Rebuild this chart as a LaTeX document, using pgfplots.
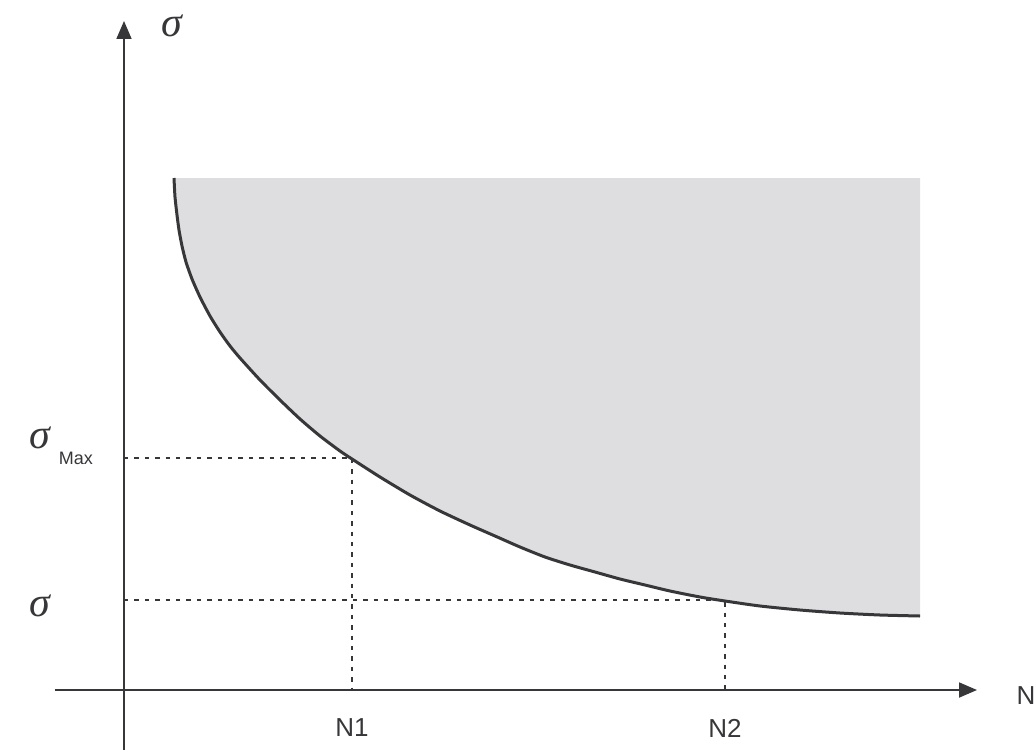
\documentclass[border=0pt]{standalone}
\usepackage{fontspec}
\setmainfont{Liberation Sans}
\newfontfamily\serifit{Liberation Serif}
\usepackage{pgfplots}
\pgfplotsset{compat=1.18}
\usetikzlibrary{arrows.meta}
\definecolor{ink}{RGB}{55,55,58}
\definecolor{shade}{RGB}{222,222,224}
\pgfplotstableread{
x y
50 512
51 493
53 475
55 460
58 444
62 428
68 411
76 393
86 374
96 358
106 344
116 332
136 310
156 290
176 271
196 254
216 239
228 231
256 213
286 195
316 179
346 165
371 154
396 143
421 133
446 125
471 118
496 111
521 105
546 99
576 93
601 89
636 84
676 80
716 77
756 75
796 74
}\curve
\begin{document}
\begin{tikzpicture}
\begin{axis}[
  x=0.5pt, y=0.5pt,
  xmin=-69, xmax=853, ymin=-60, ymax=669,
  axis lines=middle,
  axis line style={ink, line width=0.9pt, -{Triangle[length=9pt,width=7.5pt]}},
  xtick=\empty, ytick=\empty,
  clip=false,
]
\path (axis cs:-124,-61) rectangle (axis cs:912,690);
% shaded region
\addplot[draw=none, fill=shade] table[x=x,y=y] {\curve} |- (axis cs:50,512) -- cycle;
% dashed guides
\addplot[ink, line width=1pt, dash pattern=on 2.2pt off 3pt] coordinates {(0,232) (228,232) (228,0)};
\addplot[ink, line width=1pt, dash pattern=on 2.2pt off 3pt] coordinates {(0,90) (601,90) (601,0)};
% curve
\addplot[ink, line width=1.5pt, smooth, tension=0.4] table[x=x,y=y] {\curve};
% labels
\node[ink, inner sep=0pt, font=\serifit\itshape\fontsize{21}{24}\selectfont] at (axis cs:48,664) {σ};
\node[ink, inner sep=0pt, font=\serifit\itshape\fontsize{21}{24}\selectfont] at (axis cs:-84,252) {σ};
\node[ink, inner sep=0pt, font=\fontsize{9}{11}\selectfont] at (axis cs:-48,232) {Max};
\node[ink, inner sep=0pt, font=\serifit\itshape\fontsize{21}{24}\selectfont] at (axis cs:-84,84) {σ};
\node[ink, inner sep=0pt, font=\fontsize{13}{15}\selectfont] at (axis cs:228,-38) {N1};
\node[ink, inner sep=0pt, font=\fontsize{13}{15}\selectfont] at (axis cs:601,-38) {N2};
\node[ink, inner sep=0pt, font=\fontsize{13}{15}\selectfont] at (axis cs:902,-6) {N};
\end{axis}
\end{tikzpicture}
\end{document}
